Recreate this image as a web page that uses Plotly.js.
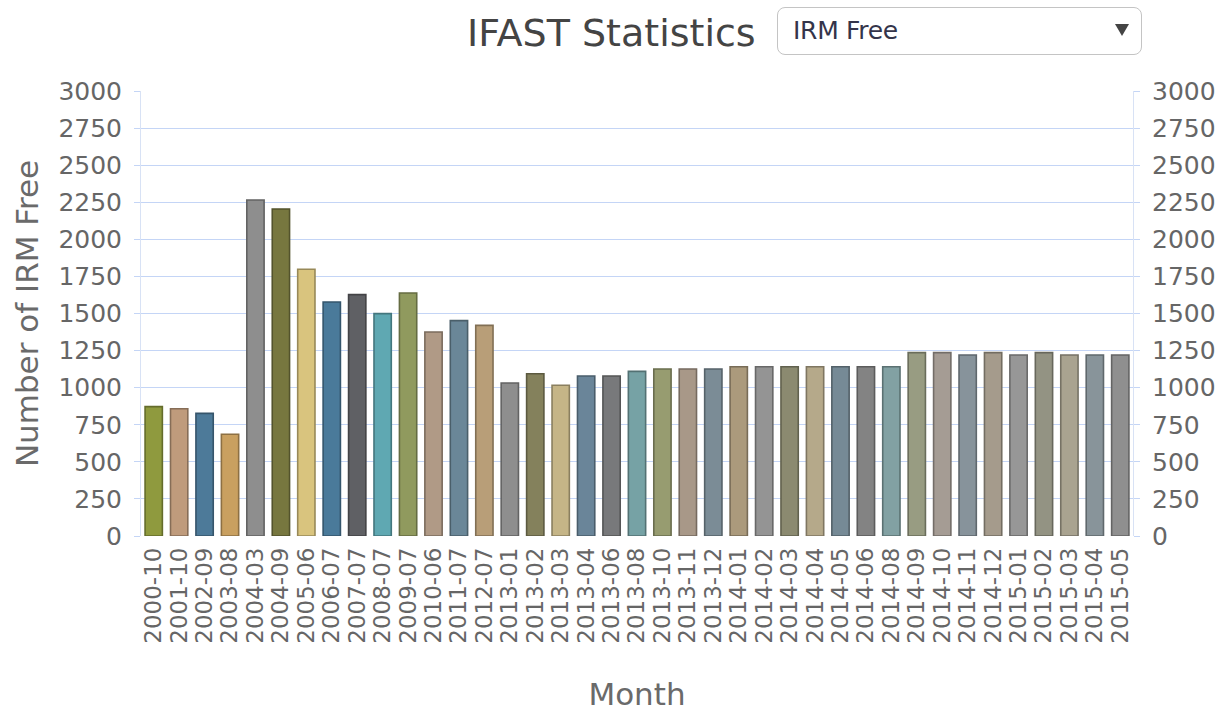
<!DOCTYPE html>
<html>
<head>
<meta charset="utf-8">
<script src="https://cdn.plot.ly/plotly-3.0.1.min.js"></script>
<style>
  html, body { margin: 0; padding: 0; background: #fff; }
  #chart { width: 1230px; height: 713px; position: relative; }
  #sel {
    position: absolute; left: 777px; top: 7px; width: 365px; height: 48px;
    box-sizing: border-box; border: 1px solid #c4c4c4; border-radius: 8px;
    background: #fff; font-family: "DejaVu Sans", sans-serif;
    font-size: 25px; color: #34344a; z-index: 10;
  }
  #sel .txt { position: absolute; left: 15px; top: 8px; letter-spacing: -0.3px; }
  #sel .arr { position: absolute; left: 337px; top: 16px; width: 0; height: 0;
    border-left: 7px solid transparent; border-right: 7px solid transparent; border-top: 12px solid #444; }
</style>
</head>
<body>
<div id="chart">
  <div id="sel"><span class="txt">IRM Free</span><span class="arr"></span></div>
</div>
<script>
const months = ["2000-10","2001-10","2002-09","2003-08","2004-03","2004-09","2005-06","2006-07","2007-07","2008-07","2009-07","2010-06","2011-07","2012-07","2013-01","2013-02","2013-03","2013-04","2013-06","2013-08","2013-10","2013-11","2013-12","2014-01","2014-02","2014-03","2014-04","2014-05","2014-06","2014-08","2014-09","2014-10","2014-11","2014-12","2015-01","2015-02","2015-03","2015-04","2015-05"];
const irmFree = [872,858,827,686,2265,2204,1798,1578,1627,1499,1638,1375,1452,1420,1031,1094,1016,1079,1079,1110,1126,1126,1126,1141,1141,1141,1141,1141,1141,1141,1236,1236,1220,1236,1220,1236,1220,1220,1220];
const barColors = ["#8f9a3e","#bf9b7c","#4d7a99","#c9a060","#8e8e8e","#77773f","#d9c47e","#4a7a9a","#5f6064","#5fa8b2","#909a5e","#b09a86","#6a8798","#b89e78","#8e8e8e","#84815c","#c5b587","#6a8599","#78797b","#76a2a5","#979c70","#a89888","#7b8c96","#ab9a7c","#949494","#8b8a70","#b5a98a","#768a96","#838383","#82a1a3","#989c82","#a59c94","#87939b","#a59b8c","#979797","#939383","#a9a390","#88949a","#8f8f8f"];
const yTicks = [0,250,500,750,1000,1250,1500,1750,2000,2250,2500,2750,3000];

function darker(hex, f) {
  const n = parseInt(hex.slice(1), 16);
  const r = Math.round(((n >> 16) & 255) * f), g = Math.round(((n >> 8) & 255) * f), b = Math.round((n & 255) * f);
  return "rgb(" + r + "," + g + "," + b + ")";
}
const lineColors = barColors.map(c => darker(c, 0.7));

const font = "DejaVu Sans, sans-serif";
const grid = "#c4d5f6";

const trace = {
  type: "bar", x: months, y: irmFree,
  marker: { color: barColors, line: { color: lineColors, width: 1.6 } },
  hoverinfo: "x+y"
};
const trace2 = {
  type: "bar", x: months, y: irmFree, yaxis: "y2", opacity: 0, hoverinfo: "skip", showlegend: false
};

const yCommon = {
  range: [0, 3000], tickvals: yTicks, ticktext: yTicks.map(String),
  tickfont: { family: font, size: 25, color: "#666" },
  ticks: "outside", ticklen: 6, tickcolor: grid, ticklabelstandoff: 7,
  showline: true, linecolor: "#d8e2f5", linewidth: 1, zeroline: false, fixedrange: true
};

const layout = {
  width: 1230, height: 713,
  margin: { l: 141, r: 97, t: 91, b: 177 },
  paper_bgcolor: "#fff", plot_bgcolor: "#fff",
  font: { family: font, color: "#666" },
  showlegend: false,
  bargap: 0.32,
  title: { text: "IFAST Statistics", font: { family: font, size: 38, color: "#444" },
           xref: "container", yref: "container", x: 0.497, xanchor: "center", y: 0.954, yanchor: "middle" },
  xaxis: {
    type: "category", tickmode: "linear", tick0: 0, dtick: 1,
    tickangle: -90, tickfont: { family: font, size: 23, color: "#666" },
    ticks: "", showline: false, showgrid: false, zeroline: false, ticklabelstandoff: 6,
    automargin: false,
    title: { text: "Month", font: { family: font, size: 31, color: "#6a6a6a" }, standoff: 40 }
  },
  yaxis: Object.assign({}, yCommon, {
    showgrid: true, gridcolor: grid, gridwidth: 1, automargin: true,
    title: { text: "Number of IRM Free", font: { family: font, size: 31, color: "#6a6a6a" }, standoff: 10 }
  }),
  yaxis2: Object.assign({}, yCommon, { overlaying: "y", side: "right", showgrid: false })
};

Plotly.newPlot("chart", [trace, trace2], layout, { displayModeBar: false, staticPlot: true });
</script>
</body>
</html>
